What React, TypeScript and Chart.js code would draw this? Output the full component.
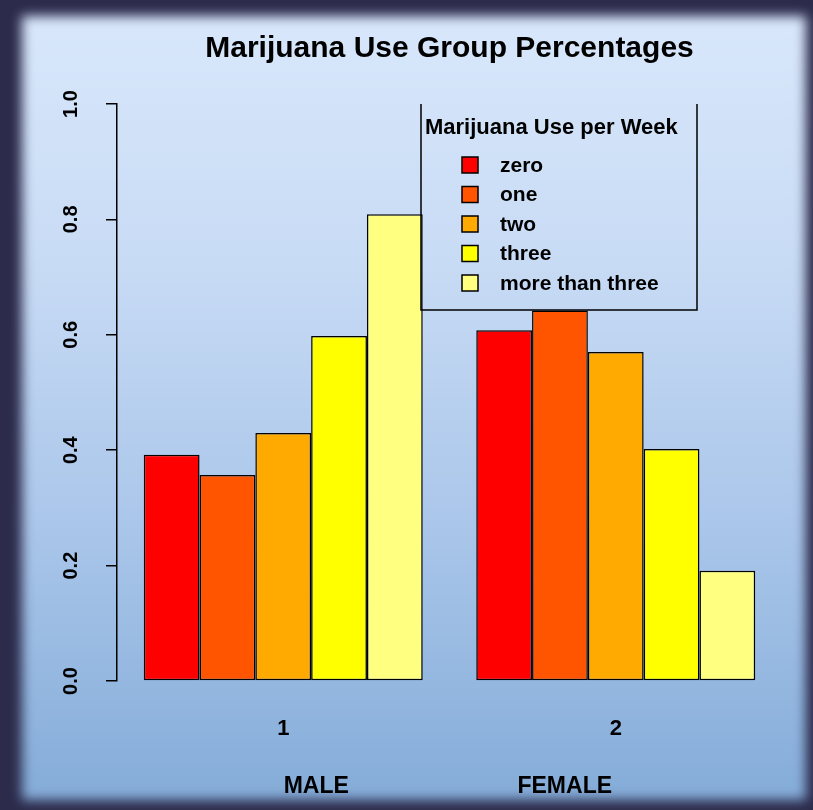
import React, { useEffect, useRef } from "react";
import { Chart, registerables } from "chart.js";

Chart.register(...registerables);

// ---- data ----
const groupLabels = ["1", "2"];
const groupNames = ["MALE", "FEMALE"];
const seriesNames = ["zero", "one", "two", "three", "more than three"];
const zero = [0.392, 0.608];
const one = [0.357, 0.642];
const two = [0.43, 0.57];
const three = [0.598, 0.402];
const moreThanThree = [0.809, 0.191];
const seriesColors = ["#FF0000", "#FF5500", "#FFAA00", "#FFFF00", "#FFFF80"];
const titleText = "Marijuana Use Group Percentages";
const legendTitle = "Marijuana Use per Week";
const yMin = 0;
const yMax = 1;
const yStep = 0.2;

const FONT = "'Liberation Sans', Arial, Helvetica, sans-serif";

const overlayPlugin = {
  id: "overlay",
  afterDraw(chart: any) {
    const ctx = chart.ctx as CanvasRenderingContext2D;
    const area = chart.chartArea;
    const xs = chart.scales.x;
    ctx.save();
    // legend box (open at the top, clipped by plot region)
    const lx0 = area.left + 304;
    const lx1 = area.left + 580;
    const ly0 = area.top;
    const ly1 = area.top + 206;
    ctx.strokeStyle = "#000";
    ctx.lineWidth = 1.5;
    ctx.beginPath();
    ctx.moveTo(lx0, ly0);
    ctx.lineTo(lx0, ly1);
    ctx.lineTo(lx1, ly1);
    ctx.lineTo(lx1, ly0);
    ctx.stroke();

    ctx.fillStyle = "#000";
    ctx.textBaseline = "middle";
    ctx.textAlign = "left";
    ctx.font = `bold 22px ${FONT}`;
    ctx.fillText(legendTitle, lx0 + 4, area.top + 24);

    ctx.font = `bold 21px ${FONT}`;
    seriesNames.forEach((name, i) => {
      const cy = area.top + 61 + i * 29.5;
      ctx.fillStyle = seriesColors[i];
      ctx.fillRect(lx0 + 41, cy - 8, 16, 16);
      ctx.strokeStyle = "#000";
      ctx.lineWidth = 1.5;
      ctx.strokeRect(lx0 + 41, cy - 8, 16, 16);
      ctx.fillStyle = "#000";
      ctx.fillText(name, lx0 + 79, cy + 1);
    });

    // group names under the axis
    ctx.font = `bold 23px ${FONT}`;
    ctx.textAlign = "center";
    const gx = [xs.getPixelForValue(0) + 33, xs.getPixelForValue(1) - 51];
    groupNames.forEach((g, i) => {
      ctx.fillText(g, gx[i], area.bottom + 106);
    });
    ctx.restore();
  },
};

export default function App() {
  const ref = useRef<HTMLCanvasElement | null>(null);

  useEffect(() => {
    if (!ref.current) return;
    const seriesValues = [zero, one, two, three, moreThanThree];
    const chart = new Chart(ref.current, {
      type: "bar",
      data: {
        labels: groupLabels,
        datasets: seriesNames.map((name, i) => ({
          label: name,
          data: seriesValues[i],
          backgroundColor: seriesColors[i],
          borderColor: "#000",
          borderWidth: 1.5,
          borderSkipped: false,
          categoryPercentage: 0.839,
          barPercentage: 1.0,
        })),
      },
      options: {
        responsive: false,
        animation: false,
        devicePixelRatio: 1,
        layout: { padding: { left: 0, right: 31, top: 0, bottom: 0 } },
        plugins: {
          legend: { display: false },
          tooltip: { enabled: false },
          title: {
            display: true,
            text: titleText,
            fullSize: false,
            color: "#000",
            font: { family: FONT, size: 30, weight: "bold", lineHeight: 1 },
            padding: { top: 34, bottom: 40 },
          },
        },
        scales: {
          x: {
            grid: { display: false, drawTicks: false },
            border: { display: false },
            ticks: {
              color: "#000",
              font: { family: FONT, size: 22, weight: "bold" },
              padding: 35,
            },
            afterFit: (s: any) => {
              s.height = 129;
            },
          },
          y: {
            min: yMin,
            max: yMax,
            grid: {
              drawOnChartArea: false,
              drawTicks: true,
              tickLength: 11,
              color: "#000",
              lineWidth: 1.5,
            },
            border: { display: true, color: "#000", width: 1.5 },
            ticks: {
              stepSize: yStep,
              color: "#000",
              minRotation: 90,
              maxRotation: 90,
              crossAlign: "center",
              padding: 21,
              font: { family: FONT, size: 20, weight: "bold" },
              callback: (v: any) => Number(v).toFixed(1),
            },
            afterFit: (s: any) => {
              s.width = 117;
            },
          },
        },
      },
      plugins: [overlayPlugin],
    });
    return () => chart.destroy();
  }, []);

  return (
    <div
      style={{
        position: "absolute",
        left: 0,
        top: 0,
        width: 813,
        height: 810,
        overflow: "hidden",
        background: "#2c2b4c",
      }}
    >
      <div
        style={{
          position: "absolute",
          left: 22,
          top: 16,
          width: 784,
          height: 784,
          background: "linear-gradient(180deg, #d8e7fb 0%, #c9dcf5 30%, #aac6ea 65%, #84acd8 100%)",
          filter: "blur(6px)",
        }}
      />
      <canvas
        ref={ref}
        width={813}
        height={810}
        style={{ position: "absolute", left: 0, top: 0, display: "block" }}
      />
    </div>
  );
}
